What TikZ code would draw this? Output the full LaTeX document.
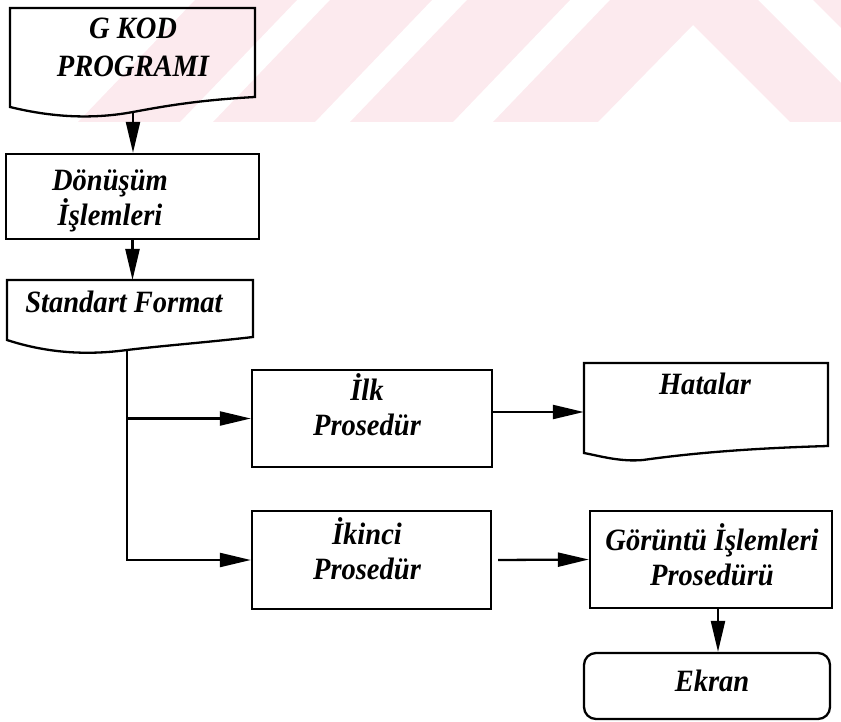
\documentclass[tikz,border=0pt]{standalone}
\usepackage{fontspec}
\setmainfont{Liberation Serif}[FakeStretch=0.92]
\usetikzlibrary{arrows.meta}
\definecolor{wmpink}{RGB}{252,234,238}
\newcommand{\flowfont}{\fontsize{31}{35}\selectfont\bfseries\itshape}
\begin{document}
\begin{tikzpicture}[x=1pt,y=-1pt,
  lbl/.style={font=\flowfont, align=center, inner sep=0pt},
  proc/.style={draw, line width=2.3pt, rectangle, inner sep=0pt},
  slot/.style={rectangle, inner sep=0pt},
  outline/.style={line width=2.3pt, line join=miter},
  flow/.style={line width=2.3pt, -{Triangle[length=31pt,width=14pt]}}]
\useasboundingbox (0,0) rectangle (841,722);

% faint striped band along the top edge
\begin{scope}
  \clip (0,0) rectangle (841,122);
  \fill[wmpink] (195,0) -- (297,0) -- (180,122) -- (78,122) -- cycle;
  \fill[wmpink] (330,0) -- (432,0) -- (315,122) -- (213,122) -- cycle;
  \fill[wmpink] (467,0) -- (570,0) -- (453,122) -- (350,122) -- cycle;
  \fill[wmpink] (610,0) -- (758,0) -- (880,122) -- (790,122) -- (693,25)
                -- (598,122) -- (493,122) -- cycle;
  \fill[wmpink] (813,0) -- (930,0) -- (1050,122) -- (935,122) -- cycle;
\end{scope}

% G KOD PROGRAMI (document)
\draw[outline] (10,107) -- (10,8) -- (255,8) -- (255,97)
  .. controls (200,100) and (165,106) .. (133,112) coordinate (gkodout)
  .. controls (95,119) and (55,118) .. cycle;
\node[lbl] (gkod) at (133,47) {G KOD\\[3pt]PROGRAMI};

% Dönüşüm İşlemleri
\node[proc, minimum width=253, minimum height=85] (donusum) at (132.5,196.5) {};
\node[lbl] (donusumtxt) at (110,201) {Dönüşüm\\İşlemleri};

% Standart Format (document)
\draw[outline] (7,340) -- (7,280) -- (253,280) -- (253,337)
  .. controls (210,342) and (160,346) .. (127,350) coordinate (stdout)
  .. controls (90,355) and (50,354) .. cycle;
\node[lbl] (standart) at (124,302) {Standart Format};

% İlk Prosedür and Hatalar
\node[proc, minimum width=240, minimum height=97] (ilk) at (372,418.5) {};
\node[lbl] (ilktxt) at (367,405) {İlk\\Prosedür};

\node[slot, minimum width=244, minimum height=98] (hatalar) at (706,412) {};
\draw[outline] (584,453) -- (584,363) -- (828,363) -- (828,446)
  .. controls (760,448) and (700,452) .. (643,460)
  .. controls (620,462) and (600,456) .. cycle;
\node[lbl] (hatalartxt) at (705,384) {Hatalar};

% İkinci Prosedür, Görüntü İşlemleri Prosedürü, Ekran
\node[proc, minimum width=239, minimum height=98] (ikinci) at (371.5,560) {};
\node[lbl] (ikincitxt) at (367,549) {İkinci\\Prosedür};

\node[proc, minimum width=242, minimum height=97] (goruntu) at (711,559.5) {};
\node[lbl] (goruntutxt) at (712,555) {Görüntü İşlemleri\\Prosedürü};

\node[proc, rounded corners=12pt, minimum width=246, minimum height=66] (ekran) at (707,686) {};
\node[lbl] (ekrantxt) at (712,681) {Ekran};

% connectors
\draw[flow] (gkodout) -- (gkodout |- donusum.north);
\draw[flow] (donusum.south) -- (donusum.south |- 0,280);
\draw[flow] (stdout) |- (ikinci.west);
\draw[flow] (stdout |- ilk.west) -- (ilk.west);
\draw[flow] (ilk.east |- hatalar.west) -- (hatalar.west);
\draw[flow] ([xshift=6pt]ikinci.east) -- (goruntu.west);
\draw[flow] (goruntu.south -| 718,0) -- (ekran.north -| 718,0);
\end{tikzpicture}
\end{document}
